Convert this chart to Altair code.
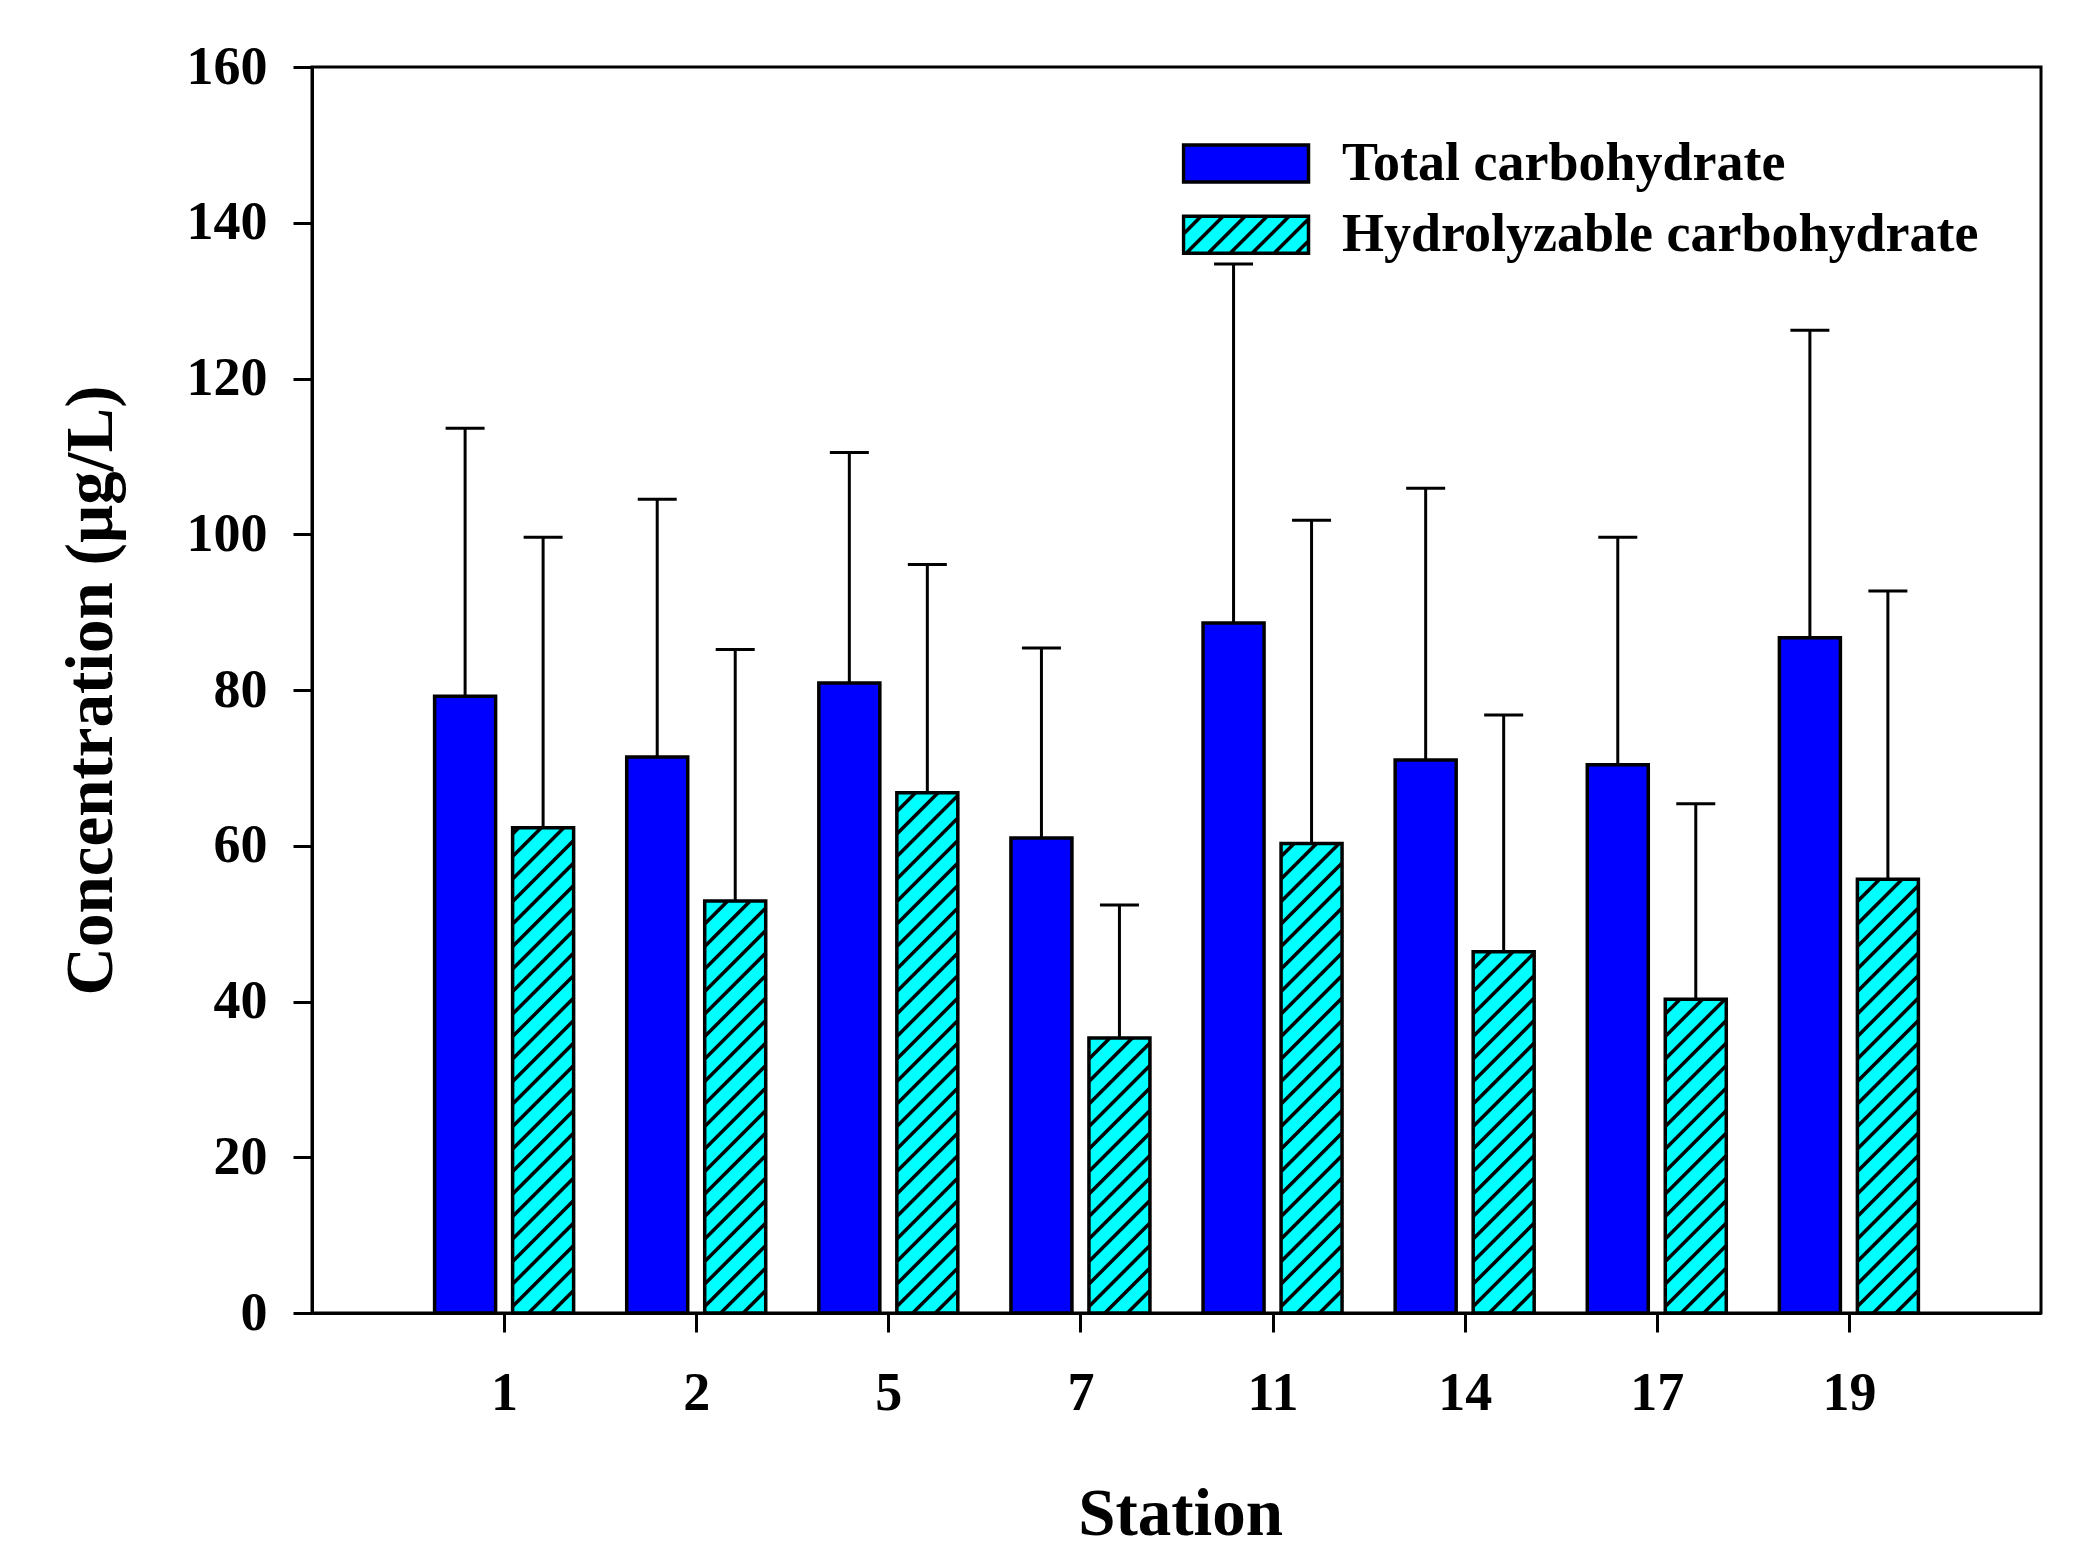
import altair as alt
import pandas as pd

# ---------------- data ----------------
stations = ["1", "2", "5", "7", "11", "14", "17", "19"]
series_names = ["Total carbohydrate", "Hydrolyzable carbohydrate"]
total_mean = [79.2, 71.4, 80.9, 61.0, 88.6, 71.0, 70.4, 86.7]
total_sd = [34.4, 33.1, 29.6, 24.4, 46.1, 34.9, 29.2, 39.5]
hydro_mean = [62.3, 52.9, 66.8, 35.3, 60.3, 46.4, 40.3, 55.7]
hydro_sd = [37.3, 32.3, 29.3, 17.1, 41.5, 30.4, 25.1, 37.0]
y_ticks = [0, 20, 40, 60, 80, 100, 120, 140, 160]

rows = []
for i, st in enumerate(stations):
    rows.append({"idx": i + 1, "station": st, "series": series_names[0],
                 "mean": total_mean[i], "sd": total_sd[i]})
    rows.append({"idx": i + 1, "station": st, "series": series_names[1],
                 "mean": hydro_mean[i], "sd": hydro_sd[i]})
df = pd.DataFrame(rows)

# ---------------- layout / style constants ----------------
W, H = 1729, 1246
XMAX, YMAX = len(stations) + 1, 160
kx = W / XMAX
ky = H / YMAX
BAR_W = 61 / kx
HALF_GAP = 8.5 / kx
CAP_HALF = 19.5 / kx
HATCH_D = 22.5  # vertical spacing of hatch lines in px
FONT = "Liberation Serif"
BLUE, CYAN = "#0000ff", "#00ffff"

xs = alt.Scale(domain=[0, XMAX], nice=False, zero=False)
ys = alt.Scale(domain=[0, YMAX], nice=False)

label_expr = "[" + ",".join("'%s'" % s for s in stations) + "][datum.value - 1]"

x_axis = alt.Axis(values=list(range(1, len(stations) + 1)), labelExpr=label_expr,
                  labelPadding=34, titleY=221, titleX=868, titleBaseline="alphabetic",
                  titleAlign="center", labelAngle=0)
y_axis = alt.Axis(values=y_ticks, labelPadding=26, titleX=-201, titleY=H / 2,
                  titleBaseline="alphabetic", titleAlign="center", titleAngle=-90)

# legend glyphs (wide rectangles, second one hatched)
hh = 0.296
rect_path = "M-1,-%.3fH1V%.3fH-1Z" % (hh, hh)
hatch_parts = [rect_path]
s = 22.0 / 62.5
c = -(1 + hh) + s * 0.8
while c < 1 + hh:
    x0 = max(-1.0, c - hh)
    x1 = min(1.0, c + hh)
    if x1 > x0:
        hatch_parts.append("M%.3f,%.3fL%.3f,%.3f" % (x0, c - x0, x1, c - x1))
    c += s
hatch_path = "".join(hatch_parts)

fill_enc = alt.Fill("series:N", scale=alt.Scale(domain=series_names, range=[BLUE, CYAN]),
                    title=None)

base = alt.Chart(df).transform_calculate(
    left=f"datum.idx + (datum.series == '{series_names[0]}' ? {-(HALF_GAP + BAR_W)} : {HALF_GAP})",
    zero="0",
).transform_calculate(
    right=f"datum.left + {BAR_W}",
    center=f"datum.left + {BAR_W / 2}",
    top="datum.mean + datum.sd",
).transform_calculate(
    capl=f"datum.center - {CAP_HALF}",
    capr=f"datum.center + {CAP_HALF}",
)

bars = base.mark_bar(strokeWidth=0).encode(
    x=alt.X("left:Q", scale=xs, axis=x_axis, title="Station"),
    x2="right:Q",
    y=alt.Y("mean:Q", scale=ys, axis=y_axis, title="Concentration (µg/L)"),
    y2="zero:Q",
    fill=fill_enc,
)

hatch = base.transform_filter(
    f"datum.series == '{series_names[1]}'"
).transform_calculate(
    ks="sequence(1, 60)"
).transform_flatten(["ks"]).transform_calculate(
    wp=f"(datum.right - datum.left) * {kx}",
    hp=f"datum.mean * {ky}",
).transform_calculate(
    cc=f"datum.ks * {HATCH_D} - datum.wp",
).transform_calculate(
    ulo="max(0, -datum.cc)",
    uhi="min(datum.wp, datum.hp - datum.cc)",
).transform_filter("datum.ulo < datum.uhi").transform_calculate(
    hx1=f"datum.left + datum.ulo / {kx}",
    hy1=f"(datum.ulo + datum.cc) / {ky}",
    hx2=f"datum.left + datum.uhi / {kx}",
    hy2=f"(datum.uhi + datum.cc) / {ky}",
).mark_rule(color="black", strokeWidth=3.5).encode(
    x=alt.X("hx1:Q", scale=xs), x2="hx2:Q",
    y=alt.Y("hy1:Q", scale=ys), y2="hy2:Q",
)

outline = base.mark_bar(fill="transparent", stroke="black", strokeWidth=3.5).encode(
    x=alt.X("left:Q", scale=xs), x2="right:Q",
    y=alt.Y("mean:Q", scale=ys), y2="zero:Q",
)

err = base.mark_rule(color="black", strokeWidth=3).encode(
    x=alt.X("center:Q", scale=xs),
    y=alt.Y("mean:Q", scale=ys), y2="top:Q",
)
caps = base.mark_rule(color="black", strokeWidth=3).encode(
    x=alt.X("capl:Q", scale=xs), x2="capr:Q",
    y=alt.Y("top:Q", scale=ys),
)

legend_pts = base.transform_filter("false").mark_point(
    filled=True, stroke="black", strokeWidth=3.5, opacity=1
).encode(
    x=alt.X("center:Q", scale=xs),
    y=alt.Y("mean:Q", scale=ys),
    fill=fill_enc,
    shape=alt.Shape("series:N", scale=alt.Scale(domain=series_names,
                                                range=[rect_path, hatch_path]),
                    title=None),
)

chart = alt.layer(bars, hatch, outline, err, caps, legend_pts).properties(
    width=W, height=H,
    autosize=alt.AutoSizeParams(type="none"),
    padding={"left": 312, "top": 67, "right": 2084 - 312 - W, "bottom": 1542 - 67 - H},
    background="white",
).configure_view(
    stroke="black", strokeWidth=3
).configure_axis(
    grid=False, domainColor="black", domainWidth=3, tickColor="black", tickWidth=3,
    tickSize=19, labelFont=FONT, labelFontSize=54, labelFontWeight="bold",
    labelColor="black", titleFont=FONT, titleFontSize=67, titleFontWeight="bold",
    titleColor="black",
).configure_legend(
    orient="none", legendX=869.5, legendY=75.5, padding=0,
    labelFont=FONT, labelFontSize=54, labelFontWeight="bold", labelColor="black",
    symbolSize=15625, symbolStrokeColor="black", symbolStrokeWidth=3.5,
    clipHeight=42, rowPadding=17.3, labelOffset=31.5, labelLimit=0,
)

chart.save("out.html", embed_options={"renderer": "svg", "actions": False})
